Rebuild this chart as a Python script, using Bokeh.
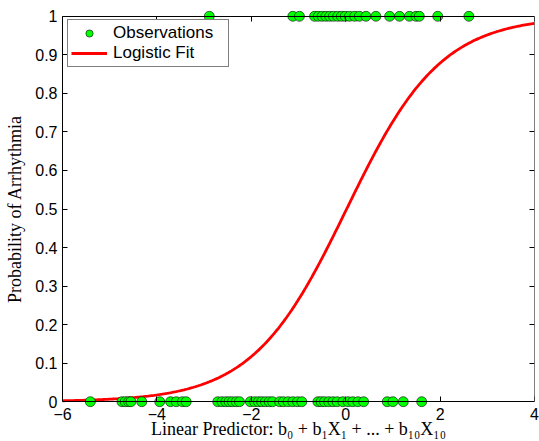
import numpy as np
from bokeh.plotting import figure
from bokeh.models import (Range1d, FixedTicker, LinearAxis, Legend, LegendItem,
                          CustomJSTickFormatter, ColumnDataSource)
from bokeh.embed import file_html
from bokeh.resources import INLINE

# ---- data ----
obs_x_arrhythmia = [-2.89, -1.12, -0.98, -0.66, -0.58, -0.50, -0.42, -0.34, -0.26,
                    -0.17, -0.09, -0.01, 0.08, 0.19, 0.29, 0.43, 0.64, 0.93, 1.14,
                    1.35, 1.49, 1.56, 1.95, 2.61]
obs_x_normal = [-5.41, -4.74, -4.67, -4.60, -4.55, -4.32, -3.94, -3.71, -3.59, -3.46,
                -3.38, -2.71, -2.62, -2.54, -2.47, -2.40, -2.32, -2.25, -2.02, -1.93,
                -1.85, -1.78, -1.70, -1.62, -1.55, -1.40, -1.32, -1.22, -1.12, -1.02,
                -0.93, -0.59, -0.52, -0.45, -0.36, -0.27, -0.18, -0.06, 0.05, 0.15,
                0.26, 0.38, 0.88, 1.00, 1.22, 1.61]
fit_b0 = -0.02
fit_b1 = 1.0
x_ticks = [-6, -4, -2, 0, 2, 4]
y_ticks = [0, 0.1, 0.2, 0.3, 0.4, 0.5, 0.6, 0.7, 0.8, 0.9, 1]
x_limits = (-6, 4)
y_limits = (0, 1)
legend_labels = ["Observations", "Logistic Fit"]
x_label_text = "Linear Predictor: b\u2080 + b\u2081X\u2081 + ... + b\u2081\u2080X\u2081\u2080"
y_label_text = "Probability of Arrhythmia"

obs_x = obs_x_arrhythmia + obs_x_normal
obs_y = [1] * len(obs_x_arrhythmia) + [0] * len(obs_x_normal)
fit_x = np.linspace(x_limits[0], x_limits[1], 300)
fit_y = 1.0 / (1.0 + np.exp(-(fit_b0 + fit_b1 * fit_x)))

pad = 0.015
p = figure(frame_width=472, frame_height=397,
           min_border_left=62, min_border_right=5, min_border_top=10, min_border_bottom=34,
           x_range=Range1d(x_limits[0], x_limits[1]),
           y_range=Range1d(y_limits[0] - pad, y_limits[1] + pad),
           output_backend="svg", toolbar_location=None,
           background_fill_color="white", border_fill_color="white")
p.outline_line_color = None
p.xgrid.visible = False
p.ygrid.visible = False

num_fmt = CustomJSTickFormatter(code="""
var v = Math.round(tick*10)/10;
var s = String(Math.abs(v));
return (v < 0 ? '\\u2212' : '') + s;
""")
empty_fmt = CustomJSTickFormatter(code="return '';")

def style_axis(ax, ticks, fmt, show_labels=True, tick_in=5, tick_out=0, line=True):
    ax.ticker = FixedTicker(ticks=ticks)
    ax.formatter = fmt
    ax.major_tick_in = tick_in
    ax.major_tick_out = tick_out
    ax.minor_tick_in = 0
    ax.minor_tick_out = 0
    ax.axis_line_color = "black" if line else None
    ax.axis_line_width = 1
    ax.major_tick_line_color = "black" if (tick_in or tick_out) else None
    ax.major_label_text_font = "Liberation Sans"
    ax.major_label_text_color = "black"
    if show_labels:
        ax.major_label_text_font_size = "16px"
        ax.major_label_standoff = 5
    else:
        ax.major_label_text_font_size = "1px"
        ax.major_label_standoff = 0

# bottom axis: labels only (line and ticks drawn by the y=0 axis)
xa = p.xaxis[0]
style_axis(xa, x_ticks, num_fmt, tick_in=0, tick_out=0, line=False)
xa.major_label_standoff = 0
xa.axis_label = x_label_text
xa.axis_label_text_font = "Liberation Serif"
xa.axis_label_text_font_style = "normal"
xa.axis_label_text_font_size = "18px"
xa.axis_label_text_color = "black"
xa.axis_label_standoff = -4

ya = p.yaxis[0]
style_axis(ya, y_ticks, num_fmt)
ya.bounds = y_limits
ya.axis_label = y_label_text
ya.axis_label_text_font = "Liberation Serif"
ya.axis_label_text_font_style = "normal"
ya.axis_label_text_font_size = "18px"
ya.axis_label_text_color = "black"
ya.axis_label_standoff = 7

top_ax = LinearAxis()
style_axis(top_ax, x_ticks, empty_fmt, show_labels=False, tick_in=5, tick_out=0)
top_ax.fixed_location = y_limits[1]
top_ax.bounds = x_limits
p.add_layout(top_ax, "above")

zero_ax = LinearAxis()
style_axis(zero_ax, x_ticks, empty_fmt, show_labels=False, tick_in=0, tick_out=5)
zero_ax.fixed_location = y_limits[0]
zero_ax.bounds = x_limits
p.add_layout(zero_ax, "above")

right_ax = LinearAxis()
style_axis(right_ax, y_ticks, empty_fmt, show_labels=False)
right_ax.fixed_location = x_limits[1]
right_ax.bounds = y_limits
p.add_layout(right_ax, "right")

fit_r = p.line(fit_x, fit_y, line_color="#ff0000", line_width=2.8)
obs_src = ColumnDataSource(dict(x=obs_x, y=obs_y))
obs_r = p.scatter("x", "y", source=obs_src, marker="circle", size=10,
                  fill_color="#00ff00", line_color="black", line_width=0.6)

legend = Legend(items=[LegendItem(label=legend_labels[0], renderers=[obs_r]),
                       LegendItem(label=legend_labels[1], renderers=[fit_r])],
                location=(5, 340))
legend.label_text_font = "Liberation Sans"
legend.label_text_font_size = "17px"
legend.label_text_color = "black"
legend.padding = 3
legend.spacing = 0
legend.margin = 0
legend.glyph_width = 36
legend.glyph_height = 18
legend.label_height = 18
legend.label_width = 112
legend.label_standoff = 6
legend.border_line_color = "black"
legend.border_line_width = 1
legend.background_fill_color = "white"
legend.background_fill_alpha = 1
p.add_layout(legend)

open("out.html", "w").write(file_html(p, INLINE))
